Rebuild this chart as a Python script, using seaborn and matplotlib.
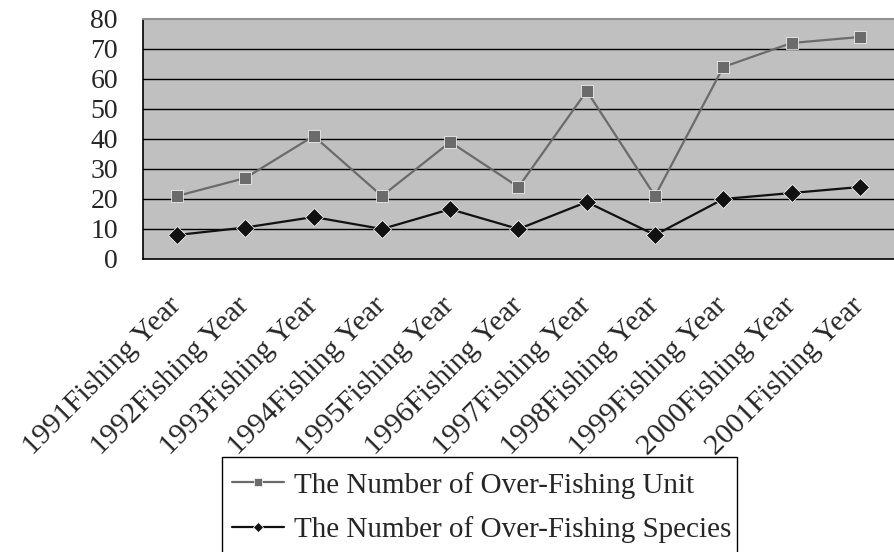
import matplotlib
matplotlib.use("Agg")
import matplotlib.pyplot as plt
from matplotlib.patches import Rectangle
import seaborn as sns
import pandas as pd
import numpy as np

years = ["1991", "1992", "1993", "1994", "1995", "1996",
         "1997", "1998", "1999", "2000", "2001"]
categories = [y + "Fishing Year" for y in years]
unit_counts = [21, 27, 41, 21, 39, 24, 56, 21, 64, 72, 74]
species_counts = [8, 10.5, 14, 10, 16.6, 10, 19, 8, 20, 22, 24]
series_names = ["The Number of Over-Fishing Unit",
                "The Number of Over-Fishing Species"]
y_ticks = [0, 10, 20, 30, 40, 50, 60, 70, 80]

df = pd.DataFrame({
    "category": categories * 2,
    "value": unit_counts + species_counts,
    "series": [series_names[0]] * len(categories) + [series_names[1]] * len(categories),
})

sns.set_theme(style="white")
plt.rcParams["font.family"] = ["Liberation Serif", "DejaVu Serif"]

W, H = 895, 552
fig = plt.figure(figsize=(W / 100, H / 100), dpi=100)
ax = fig.add_axes([143 / W, 1 - 259 / H, (894 - 143) / W, (259 - 19) / H])
ax.set_facecolor("#c0c0c0")

palette = {series_names[0]: "#6b6b6b", series_names[1]: "#111111"}
markers = {series_names[0]: "s", series_names[1]: "D"}
sns.lineplot(data=df, x="category", y="value", hue="series", style="series",
             palette=palette, markers=markers, dashes=False, markersize=9,
             markeredgewidth=0.5, linewidth=1.6, sort=False, ax=ax, legend=True)

for yv in y_ticks[1:-1]:
    ax.axhline(yv, color="black", linewidth=1.0, zorder=0.5)

ax.set_xlim(-0.5, len(categories) - 0.5)
ax.set_ylim(0, 80)
ax.set_yticks(y_ticks)
ax.set_yticklabels([str(v) for v in y_ticks], fontsize=20)
ax.tick_params(axis="y", length=0, pad=18)

ax.set_xticks(range(len(categories)))
ax.set_xticklabels(categories, rotation=45, ha="right", va="center",
                   rotation_mode="anchor", fontsize=21.5)
ax.tick_params(axis="x", length=0, pad=31)
ax.set_xticks(np.arange(0.5, len(categories) - 1, 1.0), minor=True)
ax.tick_params(axis="x", which="minor", direction="in", length=10, width=1,
               color="black")
ax.set_xlabel("")
ax.set_ylabel("")

for side in ["left", "bottom"]:
    ax.spines[side].set_color("black")
    ax.spines[side].set_linewidth(1.2)
ax.spines["top"].set_color("#909090")
ax.spines["top"].set_linewidth(1.5)
ax.spines["right"].set_visible(False)

# Legend entries without their own frame; a box below the axes holds them
handles, labels = ax.get_legend_handles_labels()
ax.get_legend().remove()
leg = fig.legend(handles, labels, loc="upper left",
                 bbox_to_anchor=(217 / W, 1 - 457 / H), borderaxespad=0,
                 fontsize=21, frameon=False,
                 handlelength=1.8, handletextpad=0.35, labelspacing=0.6,
                 borderpad=0.5, markerscale=0.6)

box = Rectangle((222 / W, -20 / H), (737 - 222) / W, (552 - 457 + 20) / H,
                transform=fig.transFigure, fill=False, edgecolor="black",
                linewidth=1.0, clip_on=False)
fig.patches.append(box)

fig.savefig("out.png", dpi=100)
